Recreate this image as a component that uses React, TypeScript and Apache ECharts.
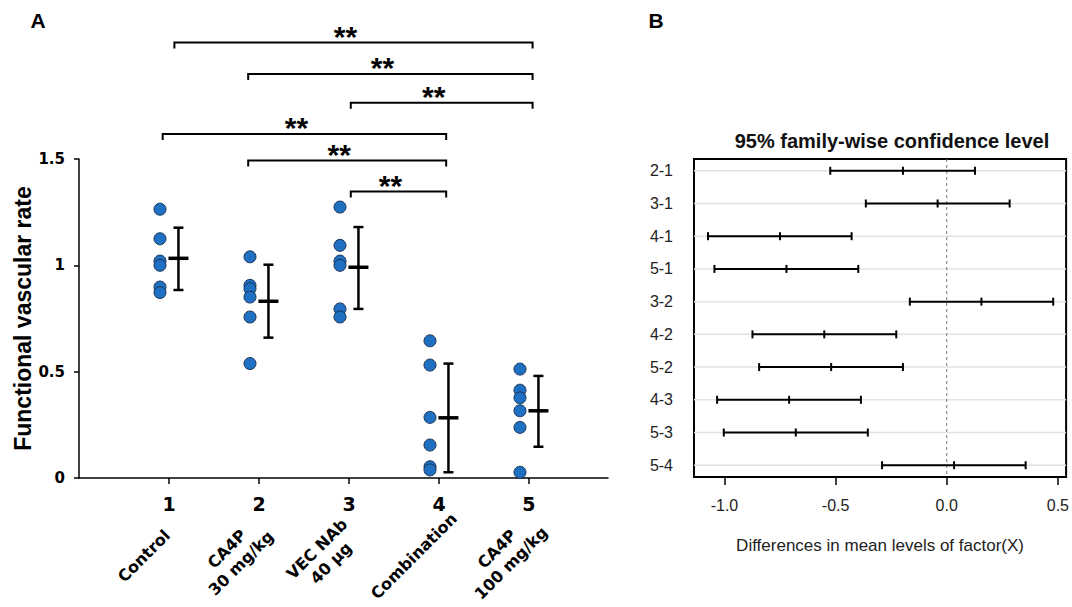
import React, { useEffect, useRef } from 'react';
import * as echarts from 'echarts';

// ---------- Panel A data ----------
const groupIds = [1, 2, 3, 4, 5];
const groupNames = ['Control', 'CA4P\n30 mg/kg', 'VEC NAb\n40 µg', 'Combination', 'CA4P\n100 mg/kg'];
const controlValues = [1.264, 1.125, 1.02, 1.0, 0.898, 0.872];
const ca4p30Values = [1.04, 0.906, 0.89, 0.851, 0.757, 0.538];
const vecNabValues = [1.274, 1.094, 1.02, 1.0, 0.795, 0.757];
const combinationValues = [0.645, 0.531, 0.285, 0.155, 0.053, 0.038];
const ca4p100Values = [0.512, 0.413, 0.377, 0.316, 0.238, 0.027];
const groupMeans = [1.033, 0.831, 0.991, 0.283, 0.316];
const groupLow = [0.884, 0.66, 0.795, 0.027, 0.147];
const groupHigh = [1.177, 1.003, 1.18, 0.538, 0.48];

// significance brackets: from group, to group, level
const bracketFrom = [1.06, 1.88, 3.02, 0.93, 1.88, 3.02];
const bracketTo = [5.04, 5.04, 5.04, 4.08, 4.08, 4.08];
const bracketLevel = [2.048, 1.9, 1.765, 1.618, 1.493, 1.347];
const bracketMark = ['**', '**', '**', '**', '**', '**'];

// ---------- Panel B data ----------
const pairs = ['2-1', '3-1', '4-1', '5-1', '3-2', '4-2', '5-2', '4-3', '5-3', '5-4'];
const diffLwr = [-0.524, -0.364, -1.074, -1.045, -0.166, -0.874, -0.844, -1.033, -1.003, -0.291];
const diffMean = [-0.197, -0.041, -0.75, -0.721, 0.156, -0.551, -0.52, -0.709, -0.679, 0.033];
const diffUpr = [0.127, 0.283, -0.428, -0.398, 0.479, -0.227, -0.197, -0.386, -0.355, 0.355];
const xTicksB = [-1, -0.5, 0, 0.5];

const allGroups = [controlValues, ca4p30Values, vecNabValues, combinationValues, ca4p100Values];
const DOT_SHIFT = -0.1;
const BAR_SHIFT = 0.105;

const heavy = '"DejaVu Sans", sans-serif';
const arial = '"Liberation Sans", Arial, sans-serif';

function buildOption(): any {
  const dots: number[][] = [];
  allGroups.forEach((vals, gi) => {
    vals.forEach((v) => dots.push([groupIds[gi] + DOT_SHIFT, v]));
  });

  return {
    animation: false,
    backgroundColor: '#fff',
    grid: [
      { left: 79, top: 159, width: 529, height: 319 },
      {
        left: 694, top: 159, width: 376, height: 318,
        show: true, borderColor: '#000', borderWidth: 2, backgroundColor: 'transparent',
      },
    ],
    xAxis: [
      {
        gridIndex: 0, type: 'value', min: 0, max: 5.878,
        axisLine: { show: true, lineStyle: { color: '#000', width: 1.5 } },
        axisTick: { show: true, customValues: groupIds, length: 6, lineStyle: { color: '#000', width: 1.5 } },
        axisLabel: {
          customValues: groupIds, margin: 16, color: '#000',
          fontFamily: heavy, fontWeight: 'bold', fontSize: 19,
        },
        splitLine: { show: false },
      },
      {
        gridIndex: 0, type: 'value', min: 0.278, max: 6.156, position: 'bottom',
        axisLine: { show: false }, axisTick: { show: false }, splitLine: { show: false },
        axisLabel: {
          customValues: groupIds,
          formatter: (v: number) => groupNames[Math.round(v) - 1] || '',
          rotate: 45, align: 'center', verticalAlign: 'middle', margin: 78,
          lineHeight: 20, color: '#000', fontFamily: heavy, fontWeight: 'bold', fontSize: 16,
        },
      },
      {
        gridIndex: 1, type: 'value', min: -1.137, max: 0.537,
        axisLine: { show: false },
        axisTick: { show: true, customValues: xTicksB, length: 8, lineStyle: { color: '#000', width: 1.5 } },
        axisLabel: {
          customValues: xTicksB, formatter: (v: number) => v.toFixed(1), margin: 20,
          color: '#222', fontFamily: arial, fontSize: 16,
        },
        splitLine: { show: false },
        name: 'Differences in mean levels of factor(X)',
        nameLocation: 'middle', nameGap: 60,
        nameTextStyle: { color: '#222', fontFamily: arial, fontSize: 17 },
      },
    ],
    yAxis: [
      {
        gridIndex: 0, type: 'value', min: 0, max: 1.5, interval: 0.5,
        axisLine: { show: true, lineStyle: { color: '#000', width: 1.5 } },
        axisTick: { show: true, length: 5, lineStyle: { color: '#000', width: 1.5 } },
        axisLabel: { margin: 14, color: '#000', fontFamily: heavy, fontWeight: 'bold', fontSize: 15 },
        splitLine: { show: false },
        name: 'Functional vascular rate', nameLocation: 'middle', nameGap: 42,
        nameTextStyle: { color: '#000', fontFamily: arial, fontWeight: 'bold', fontSize: 23 },
      },
      {
        gridIndex: 1, type: 'value', inverse: true, min: 0.64, max: 10.36,
        axisLine: { show: false }, axisTick: { show: false }, splitLine: { show: false },
        axisLabel: {
          customValues: pairs.map((_, i) => i + 1),
          formatter: (v: number) => pairs[Math.round(v) - 1] || '',
          margin: 21, color: '#222', fontFamily: arial, fontSize: 16,
        },
      },
    ],
    graphic: [
      { type: 'text', x: 38, y: 20, style: { text: 'A', fill: '#000', font: `bold 21px ${arial}`, align: 'center', verticalAlign: 'middle' } },
      { type: 'text', x: 656, y: 20, style: { text: 'B', fill: '#000', font: `bold 21px ${arial}`, align: 'center', verticalAlign: 'middle' } },
      { type: 'text', x: 892, y: 141, style: { text: '95% family-wise confidence level', fill: '#111', font: `bold 20px ${arial}`, align: 'center', verticalAlign: 'middle' } },
    ],
    series: [
      {
        type: 'scatter', xAxisIndex: 0, yAxisIndex: 0, data: dots,
        symbol: 'circle', symbolSize: 12, z: 3,
        itemStyle: { color: '#1f6fc2', borderColor: '#1a3556', borderWidth: 1, opacity: 1 },
      },
      {
        type: 'custom', xAxisIndex: 0, yAxisIndex: 0, z: 4,
        data: groupIds.map((g, i) => [g, groupMeans[i], groupLow[i], groupHigh[i]]),
        encode: { x: 0, y: [1, 2, 3] },
        renderItem: (_p: any, api: any) => {
          const x = api.value(0) + BAR_SHIFT;
          const pm = api.coord([x, api.value(1)]);
          const pl = api.coord([x, api.value(2)]);
          const ph = api.coord([x, api.value(3)]);
          const s = { stroke: '#000', lineWidth: 2.5 };
          return {
            type: 'group',
            children: [
              { type: 'line', shape: { x1: ph[0], y1: ph[1], x2: pl[0], y2: pl[1] }, style: s },
              { type: 'line', shape: { x1: ph[0] - 5, y1: ph[1], x2: ph[0] + 5, y2: ph[1] }, style: s },
              { type: 'line', shape: { x1: pl[0] - 5, y1: pl[1], x2: pl[0] + 5, y2: pl[1] }, style: s },
              { type: 'line', shape: { x1: pm[0] - 10, y1: pm[1], x2: pm[0] + 10, y2: pm[1] }, style: { stroke: '#000', lineWidth: 3.5 } },
            ],
          };
        },
      },
      {
        type: 'custom', xAxisIndex: 0, yAxisIndex: 0, z: 5, clip: false,
        data: bracketFrom.map((f, i) => [f, bracketTo[i], bracketLevel[i]]),
        encode: { x: [0, 1], y: 2 },
        renderItem: (p: any, api: any) => {
          const a = api.coord([api.value(0), api.value(2)]);
          const b = api.coord([api.value(1), api.value(2)]);
          return {
            type: 'group',
            children: [
              {
                type: 'polyline',
                shape: { points: [[a[0], a[1] + 6], [a[0], a[1]], [b[0], b[1]], [b[0], b[1] + 6]] },
                style: { stroke: '#000', lineWidth: 2, fill: null },
              },
              {
                type: 'text', x: (a[0] + b[0]) / 2 - 8, y: a[1] - 6,
                style: {
                  text: bracketMark[p.dataIndex], fill: '#000', font: `bold 30px ${arial}`,
                  align: 'center', verticalAlign: 'middle',
                },
              },
            ],
          };
        },
      },
      {
        type: 'custom', xAxisIndex: 2, yAxisIndex: 1, z: 1,
        data: pairs.map((_, i) => [0, i + 1]),
        encode: { x: 0, y: 1 },
        renderItem: (p: any, api: any) => {
          const y = api.coord([0, api.value(1)])[1];
          const cs = p.coordSys;
          return {
            type: 'line',
            shape: { x1: cs.x, y1: y, x2: cs.x + cs.width, y2: y },
            style: { stroke: '#e2e2e2', lineWidth: 1.5 },
          };
        },
      },
      {
        type: 'custom', xAxisIndex: 2, yAxisIndex: 1, z: 2,
        data: [[0, 1]],
        encode: { x: 0, y: 1 },
        renderItem: (p: any, api: any) => {
          const x = api.coord([api.value(0), 1])[0];
          const cs = p.coordSys;
          return {
            type: 'line',
            shape: { x1: x, y1: cs.y, x2: x, y2: cs.y + cs.height },
            style: { stroke: '#777', lineWidth: 1, lineDash: [3, 3] },
          };
        },
      },
      {
        type: 'custom', xAxisIndex: 2, yAxisIndex: 1, z: 3,
        data: pairs.map((_, i) => [i + 1, diffLwr[i], diffMean[i], diffUpr[i]]),
        encode: { y: 0, x: [1, 2, 3] },
        renderItem: (_p: any, api: any) => {
          const r = api.value(0);
          const pl = api.coord([api.value(1), r]);
          const pm = api.coord([api.value(2), r]);
          const pu = api.coord([api.value(3), r]);
          const s = { stroke: '#000', lineWidth: 2 };
          const cap = (q: number[]) => ({ type: 'line', shape: { x1: q[0], y1: q[1] - 4, x2: q[0], y2: q[1] + 4 }, style: s });
          return {
            type: 'group',
            children: [
              { type: 'line', shape: { x1: pl[0], y1: pl[1], x2: pu[0], y2: pu[1] }, style: s },
              cap(pl), cap(pm), cap(pu),
            ],
          };
        },
      },
    ],
  };
}

export default function App() {
  const ref = useRef<HTMLDivElement>(null);
  useEffect(() => {
    const chart = echarts.init(ref.current!, null, { renderer: 'svg' });
    chart.setOption(buildOption());
    return () => chart.dispose();
  }, []);
  return (
    <div
      ref={ref}
      style={{ position: 'fixed', left: 0, top: 0, width: 1072, height: 607, background: '#fff' }}
    />
  );
}
